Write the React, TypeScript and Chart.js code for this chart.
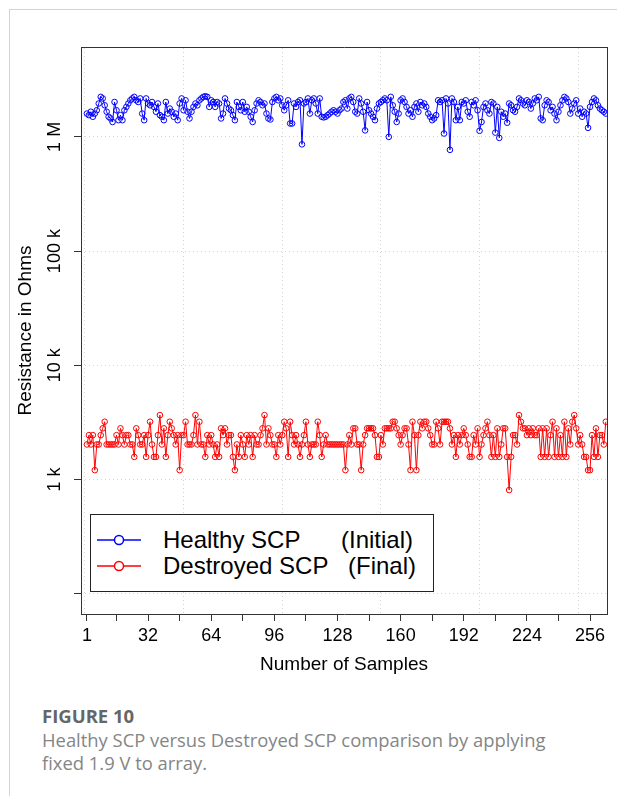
import React, { useEffect, useRef } from "react";
import { Chart, registerables } from "chart.js";

Chart.register(...registerables);

// Resistance values in kOhm, sample 1..264
const healthyKOhm: number[] = [
  1600, 1550, 1660, 1500, 1600, 1710, 1960, 2240, 2170, 1890,
  1660, 1500, 1450, 1350, 2020, 1710, 1400, 1550, 1400, 1710,
  1830, 1960, 2090, 2170, 2240, 2090, 2020, 2170, 1600, 1400,
  2170, 1960, 1890, 2020, 1830, 1660, 1960, 1550, 1500, 1400,
  2020, 1600, 1770, 1660, 1500, 1600, 1400, 1960, 2170, 1710,
  2090, 1660, 1450, 1660, 1830, 1960, 1890, 2090, 2170, 2240,
  2270, 2240, 1830, 2090, 2020, 1830, 2020, 1960, 1450, 1600,
  2170, 1960, 1770, 1710, 1550, 1400, 2020, 1830,
  1710, 2020, 1660, 1830, 1660, 1500, 1350, 1710, 1960, 2090,
  2020, 1890, 1960, 1600, 1450, 1420, 2020, 2170, 2240, 2090,
  2170, 1890, 1710, 1890, 2090, 1310, 1310, 1960, 1830, 2020,
  2090, 860, 1960, 2020, 2170, 1600, 2090, 2170, 1960, 1600,
  2170, 1500, 1480, 1500, 1550, 1600, 1660, 1710, 1660, 1600,
  1710, 1770, 2020, 2090, 1770, 2170, 2240, 2020, 1660, 1600,
  2170, 1960, 1660, 1140, 2020, 1710, 1600, 1500, 1400, 1770,
  1960, 2020, 2090, 2170, 2090, 1000, 2240, 1890, 1660, 1350,
  1600, 2090, 2170, 2020, 1830, 1600, 1710, 1500, 1830, 1960, 1660,
  2020, 1890, 1960, 1830, 1600, 1500, 1400, 1450, 1550, 2090,
  2020, 2090, 1070, 2170, 1960, 770, 2170, 2020, 1400, 1830,
  1400, 2020, 1960, 2090, 1660, 1500, 2020, 1890, 2090, 1710,
  1130, 1350, 1830, 1960, 1710, 1600, 2020, 1960, 1090, 1830,
  980, 1660, 1500, 1600, 1330, 1960, 1890, 1710, 1660, 1830,
  2170, 2090, 1960, 1890, 2090, 2020, 1770, 1960, 2170, 2090,
  2240, 1450, 1400, 1890, 2090, 2020, 1710, 1830, 1600, 1400,
  1660, 1890, 2090, 2240, 2170, 2020, 1600, 1770, 1960, 2090,
  1600, 1770, 1500, 1660, 1600, 1200, 1830, 2020, 2170, 2090,
  1890, 1770, 1710, 1660, 1600,
];

const destroyedKOhm: number[] = [
  2.03, 2.45, 2.03, 2.45, 1.21, 2.03, 2.03, 2.45, 2.81, 3.21,
  2.03, 2.03, 2.03, 2.03, 2.03, 2.45, 2.03, 2.81, 2.45, 2.03,
  2.45, 2.45, 2.03, 2.03, 1.58, 2.81, 2.45, 2.03, 2.03, 2.45,
  1.58, 2.45, 3.21, 2.03, 1.58, 1.58, 2.45, 3.67, 2.03, 2.81,
  1.58, 2.45, 3.21, 2.81, 2.45, 2.03, 2.45, 1.21, 2.45, 2.45,
  3.21, 2.03, 2.03, 2.03, 2.45, 3.67, 2.03, 3.21, 2.03, 2.03,
  1.58, 2.45, 2.03, 2.45, 2.03, 1.58, 2.03, 1.58, 2.81, 2.45,
  2.81, 2.03, 2.45, 2.45, 1.58, 1.21, 2.03, 1.58,
  2.45, 2.03, 1.58, 2.45, 2.03, 2.45, 1.58, 2.45, 2.03, 2.03,
  2.45, 2.81, 3.67, 2.03, 2.81, 2.45, 2.03, 2.03, 1.58, 2.45,
  2.03, 2.45, 3.21, 2.81, 1.58, 3.21, 2.45, 2.03, 2.45, 2.03,
  1.58, 2.03, 2.45, 3.21, 2.03, 1.58, 2.03, 2.03, 2.03, 3.21,
  2.45, 1.58, 2.03, 2.45, 2.03, 2.03, 2.03, 2.03, 2.03, 2.03,
  2.03, 2.03, 2.03, 1.21, 2.03, 2.45, 2.03, 2.81, 2.81, 2.03,
  2.03, 1.21, 2.03, 2.45, 2.81, 2.81, 2.81, 2.81, 2.45, 1.58,
  1.58, 2.45, 2.03, 2.81, 2.81, 2.81, 2.81, 3.21, 3.21, 2.81,
  2.45, 2.03, 2.45, 2.81, 2.81, 2.03, 1.21, 3.21, 2.45, 1.21, 2.45,
  3.21, 2.81, 3.21, 3.21, 2.81, 2.45, 2.03, 2.03, 3.21, 2.81,
  2.03, 3.21, 3.21, 3.21, 3.21, 2.81, 2.03, 2.45, 1.58, 2.45,
  2.03, 2.45, 2.81, 2.45, 2.03, 1.58, 1.58, 2.45, 2.03, 2.81,
  1.58, 2.03, 2.45, 2.81, 3.21, 2.45, 1.58, 2.45, 1.58, 2.81,
  1.58, 2.03, 2.81, 2.81, 1.58, 0.81, 1.58, 2.45, 2.45, 2.03,
  3.67, 3.21, 2.81, 2.81, 2.45, 2.81, 2.45, 2.81, 2.45, 2.45,
  2.81, 1.58, 2.81, 1.58, 2.81, 1.58, 2.45, 3.21, 1.58, 2.81,
  1.58, 2.45, 1.58, 3.21, 1.58, 2.81, 2.03, 3.21, 3.67, 2.81,
  2.03, 2.45, 2.03, 1.58, 1.58, 1.21, 1.21, 2.45, 1.58, 2.81,
  1.58, 2.45, 2.45, 2.03, 3.21,
];

const xTickValues = [1, 16, 32, 48, 64, 80, 96, 112, 128, 144, 160, 176, 192, 208, 224, 240, 256];
const xTickLabels = ["1", "", "32", "", "64", "", "96", "", "128", "", "160", "", "192", "", "224", "", "256"];
const yTickValues = [100, 1000, 10000, 100000, 1000000];
const yTickLabels = ["", "1 k", "10 k", "100 k", "1 M"];
const xGridValues = [0, 50, 100, 150, 200, 250];
const yGridValues = [100, 1000, 10000, 100000, 1000000];
const seriesNames = ["Healthy SCP", "Destroyed SCP"];
const seriesTags = ["(Initial)", "(Final)"];
const seriesColors = ["#0000ff", "#ff0000"];

const FONT = "'Liberation Sans', Arial, sans-serif";
const X_MIN = -2;
const X_MAX = 264.6;
const Y_MIN = 66.6;
const Y_MAX = 6.12e6;
const BOX = "#333333";
const GRID = "#d3d3d3";

export default function App() {
  const ref = useRef<HTMLCanvasElement>(null);

  useEffect(() => {
    const canvas = ref.current;
    if (!canvas) return;
    const toPoints = (vals: number[]) => vals.map((v, i) => ({ x: i + 1, y: v * 1000 }));
    const common = {
      borderWidth: 1,
      pointRadius: 2.8,
      pointHoverRadius: 2.8,
      pointBorderWidth: 1,
      pointBackgroundColor: "rgba(0,0,0,0)",
      tension: 0,
      fill: false,
    };
    const chart = new Chart(canvas, {
      type: "line",
      data: {
        datasets: [
          { label: seriesNames[0], data: toPoints(healthyKOhm), borderColor: seriesColors[0], pointBorderColor: seriesColors[0], ...common },
          { label: seriesNames[1], data: toPoints(destroyedKOhm), borderColor: seriesColors[1], pointBorderColor: seriesColors[1], ...common },
        ],
      },
      options: {
        responsive: false,
        animation: false,
        events: [],
        layout: { padding: { left: 0, top: 47, right: 10, bottom: 0 } },
        plugins: { legend: { display: false }, tooltip: { enabled: false } },
        scales: {
          x: {
            type: "linear",
            position: "bottom",
            min: X_MIN,
            max: X_MAX,
            afterBuildTicks: (s: any) => {
              s.ticks = xTickValues.map((v) => ({ value: v }));
            },
            afterFit: (s: any) => {
              s.height = 86;
            },
            ticks: {
              autoSkip: false,
              maxRotation: 0,
              minRotation: 0,
              padding: 4,
              color: "#000",
              font: { family: FONT, size: 18 },
              callback: (_v: any, i: number) => xTickLabels[i],
            },
            grid: { display: true, drawOnChartArea: false, drawTicks: true, tickLength: 7, tickColor: BOX, tickWidth: 1 },
            border: { display: true, color: BOX, width: 1 },
            title: {
              display: true,
              text: "Number of Samples",
              color: "#000",
              font: { family: FONT, size: 19 },
              padding: { top: 0, bottom: 24 },
            },
          },
          y: {
            type: "logarithmic",
            position: "left",
            min: Y_MIN,
            max: Y_MAX,
            afterBuildTicks: (s: any) => {
              s.ticks = yTickValues.map((v) => ({ value: v }));
            },
            afterFit: (s: any) => {
              s.width = 81;
            },
            ticks: {
              autoSkip: false,
              minRotation: 90,
              maxRotation: 90,
              crossAlign: "center",
              padding: -3,
              color: "#000",
              font: { family: FONT, size: 18 },
              callback: (_v: any, i: number) => yTickLabels[i],
            },
            grid: { display: true, drawOnChartArea: false, drawTicks: true, tickLength: 7, tickColor: BOX, tickWidth: 1 },
            border: { display: true, color: BOX, width: 1 },
            title: {
              display: true,
              text: "Resistance in Ohms",
              color: "#000",
              font: { family: FONT, size: 19 },
              padding: { top: 14, bottom: 0 },
            },
          },
          xg: {
            type: "linear",
            position: "top",
            min: X_MIN,
            max: X_MAX,
            afterBuildTicks: (s: any) => {
              s.ticks = xGridValues.map((v) => ({ value: v }));
            },
            afterFit: (s: any) => {
              s.height = 0;
            },
            ticks: { display: false },
            grid: { display: true, drawOnChartArea: true, drawTicks: false, color: GRID, lineWidth: 1 },
            border: { display: true, color: BOX, width: 1, dash: [1, 3] },
          },
          yg: {
            type: "logarithmic",
            position: "right",
            min: Y_MIN,
            max: Y_MAX,
            afterBuildTicks: (s: any) => {
              s.ticks = yGridValues.map((v) => ({ value: v }));
            },
            afterFit: (s: any) => {
              s.width = 0;
            },
            ticks: { display: false },
            grid: { display: true, drawOnChartArea: true, drawTicks: false, color: GRID, lineWidth: 1 },
            border: { display: true, color: BOX, width: 1, dash: [1, 3] },
          },
        },
      } as any,
    });
    return () => chart.destroy();
  }, []);

  const legendRows = [540, 566];

  return (
    <div style={{ position: "absolute", left: 0, top: 0, width: 617, height: 796, background: "#fff", overflow: "hidden" }}>
      <div
        style={{
          position: "absolute",
          left: 9,
          top: 9,
          width: 620,
          height: 800,
          borderTop: "1px solid #d4d4d4",
          borderLeft: "1px solid #d4d4d4",
        }}
      />
      <canvas ref={ref} width={617} height={700} style={{ position: "absolute", left: 0, top: 0 }} />
      <div
        style={{
          position: "absolute",
          left: 90,
          top: 514,
          width: 344,
          height: 78,
          border: "1px solid #222",
          boxSizing: "border-box",
          background: "#fff",
        }}
      />
      <svg width={617} height={700} style={{ position: "absolute", left: 0, top: 0 }}>
        {legendRows.map((y, i) => (
          <g key={i}>
            <line x1={97} x2={141} y1={y} y2={y} stroke={seriesColors[i]} strokeWidth={1.5} />
            <circle cx={119} cy={y} r={4.5} fill="#fff" stroke={seriesColors[i]} strokeWidth={1.5} />
          </g>
        ))}
      </svg>
      {legendRows.map((y, i) => (
        <React.Fragment key={i}>
          <div style={{ position: "absolute", left: 163, top: y - 13, fontFamily: FONT, fontSize: 24, lineHeight: "26px", color: "#000", whiteSpace: "nowrap" }}>
            {seriesNames[i]}
          </div>
          <div style={{ position: "absolute", left: i === 0 ? 341 : 348, top: y - 13, fontFamily: FONT, fontSize: 24, lineHeight: "26px", color: "#000", whiteSpace: "nowrap" }}>
            {seriesTags[i]}
          </div>
        </React.Fragment>
      ))}
      <div style={{ position: "absolute", left: 42, top: 705, fontFamily: "'Open Sans', sans-serif", fontWeight: 700, fontSize: 18.5, lineHeight: "22px", color: "#666" }}>
        FIGURE 10
      </div>
      <div style={{ position: "absolute", left: 42, top: 729, fontFamily: "'Open Sans', sans-serif", fontWeight: 400, fontSize: 18.4, lineHeight: "22.5px", color: "#858585", whiteSpace: "nowrap" }}>
        Healthy SCP versus Destroyed SCP comparison by applying
        <br />
        fixed 1.9 V to array.
      </div>
    </div>
  );
}
